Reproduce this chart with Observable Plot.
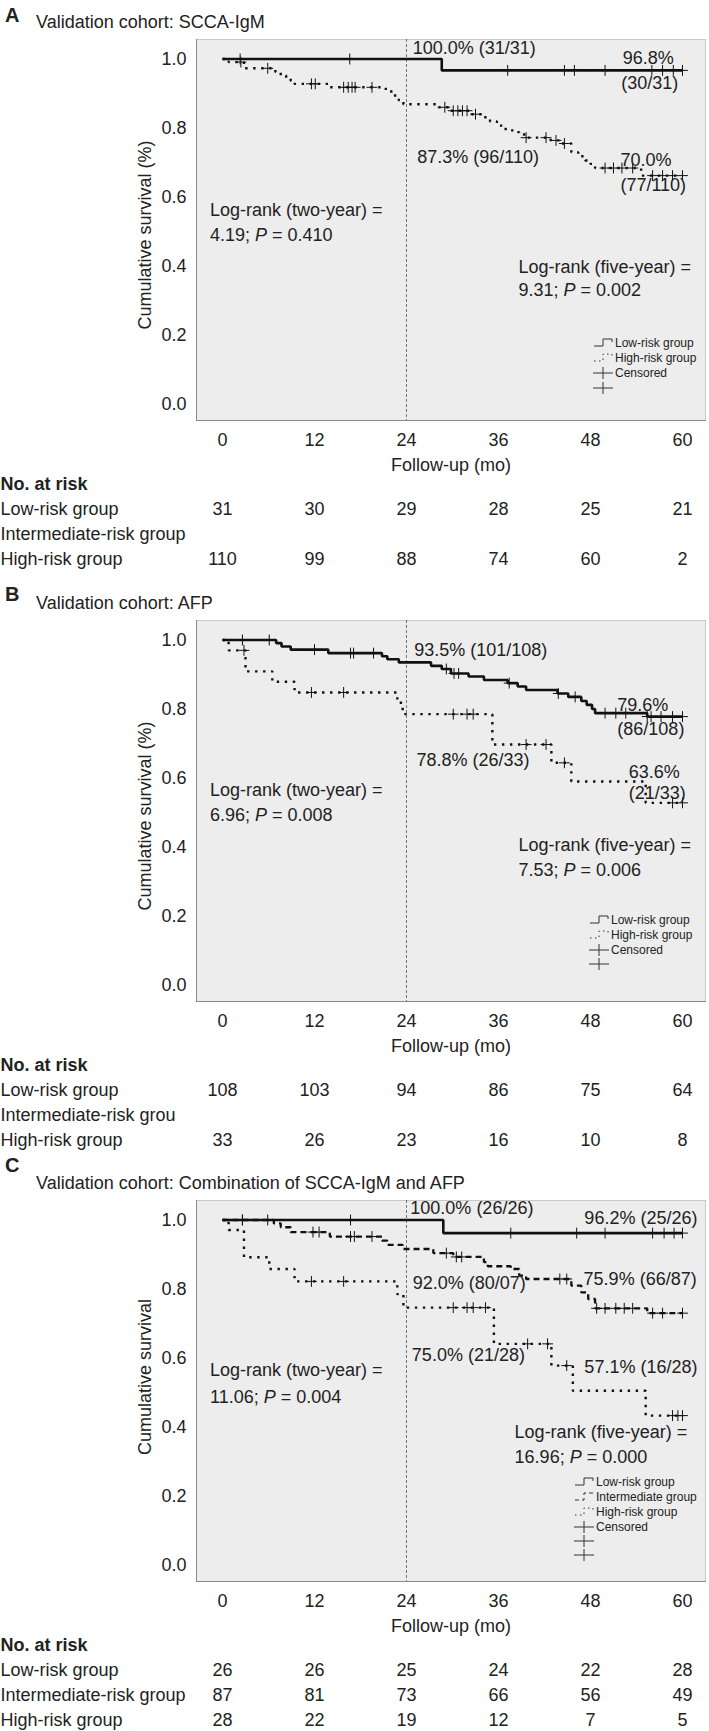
<!DOCTYPE html>
<html><head><meta charset="utf-8">
<script src="https://cdn.jsdelivr.net/npm/d3@7"></script>
<script src="https://cdn.jsdelivr.net/npm/@observablehq/plot@0.6"></script>
<style>
body{margin:0;background:#fff;width:709px;font-family:"Liberation Sans",Arial,Helvetica,sans-serif;color:#222}
.panel{position:relative;width:709px;}
.panel > *{position:absolute;left:0;top:0;}
.letter{font-weight:bold;font-size:20px;line-height:20px;}
.title{font-size:18px;line-height:18px;white-space:nowrap}
</style></head><body><div id="fig"></div>
<script>
// ---------- shared axis values ----------
const months = [0, 12, 24, 36, 48, 60];
const survTicks = [0, 0.2, 0.4, 0.6, 0.8, 1.0];

// ---------- Panel A: SCCA-IgM ----------
const aLow = [[0,1],[28.6,0.967],[60,0.967]];
const aLowCensor = [2.3,16.6,37.2,44.6,45.9,49.9,56.0,57.4,58.8,60];
const aHigh = [[0,1],[0.8,0.991],[2.8,0.973],[6.9,0.962],[7.6,0.952],[8.3,0.945],[8.9,0.937],[9.4,0.928],[14.0,0.918],[21.3,0.906],[22.2,0.894],[23.0,0.880],[23.6,0.869],[28.2,0.860],[29.5,0.850],[32.3,0.840],[34.0,0.831],[34.9,0.819],[35.8,0.807],[36.7,0.797],[37.8,0.788],[38.7,0.781],[39.6,0.772],[42.8,0.764],[44.2,0.755],[45.5,0.730],[46.4,0.718],[47.3,0.706],[48.0,0.696],[48.6,0.684],[54.6,0.662],[60,0.662]];
const aHighCensor = [2.4,5.9,11.6,12.1,15.8,16.4,16.9,17.3,19.5,29.0,30.1,30.7,31.3,31.9,33.0,39.6,42.2,43.5,44.6,49.9,51.0,52.1,53.5,56.1,57.4,58.7,60];
const aRiskLow = [31,30,29,28,25,21];
const aRiskInt = [];
const aRiskHigh = [110,99,88,74,60,2];
const aNotes = [
  {t:24.8,s:1.030,label:"100.0% (31/31)"},{t:52.2,s:1.002,label:"96.8%"},{t:52.0,s:0.931,label:"(30/31)"},
  {t:25.4,s:0.715,label:"87.3% (96/110)"},{t:51.9,s:0.706,label:"70.0%"},{t:51.9,s:0.633,label:"(77/110)"},
  {t:-1.63,s:0.561,label:"Log-rank (two-year) ="},{t:-1.63,s:0.488,label:"4.19; P = 0.410"},
  {t:38.6,s:0.396,label:"Log-rank (five-year) ="},{t:38.6,s:0.329,label:"9.31; P = 0.002"}
];

// ---------- Panel B: AFP ----------
const bLow = [[0,1],[7.0,0.991],[7.7,0.981],[8.9,0.972],[13.8,0.962],[20.8,0.953],[21.5,0.944],[23.0,0.935],[27.2,0.925],[28.6,0.916],[29.8,0.903],[32.1,0.894],[34.1,0.884],[37.2,0.875],[38.5,0.865],[39.6,0.855],[43.7,0.845],[45.1,0.835],[46.8,0.823],[47.5,0.812],[48.2,0.800],[48.6,0.788],[55.4,0.778],[60,0.778]];
const bLowCensor = [2.6,6.1,12.0,16.7,17.1,19.7,29.2,30.2,30.8,37.4,43.8,46.0,49.9,51.3,52.6,55.4,55.9,57.2,58.7,60];
const bHigh = [[0,1],[0.8,0.970],[3.0,0.909],[6.5,0.879],[9.4,0.848],[22.8,0.818],[23.5,0.785],[35.2,0.697],[42.9,0.644],[45.5,0.590],[55.2,0.528],[60,0.528]];
const bHighCensor = [2.8,11.6,15.8,30.1,31.9,32.7,39.6,42.2,44.6,58.7,60];
const bRiskLow = [108,103,94,86,75,64];
const bRiskInt = [];
const bRiskHigh = [33,26,23,16,10,8];
const bNotes = [
  {t:25.0,s:0.970,label:"93.5% (101/108)"},{t:51.5,s:0.810,label:"79.6%"},{t:51.5,s:0.740,label:"(86/108)"},
  {t:25.3,s:0.651,label:"78.8% (26/33)"},{t:53.0,s:0.616,label:"63.6%"},{t:53.0,s:0.555,label:"(21/33)"},
  {t:-1.63,s:0.564,label:"Log-rank (two-year) ="},{t:-1.63,s:0.491,label:"6.96; P = 0.008"},
  {t:38.6,s:0.404,label:"Log-rank (five-year) ="},{t:38.6,s:0.332,label:"7.53; P = 0.006"}
];

// ---------- Panel C: combination ----------
const cLow = [[0,1],[28.8,0.962],[60,0.962]];
const cLowCensor = [2.6,5.9,16.7,37.6,46.2,49.9,56.1,57.6,58.9,60];
const cInt = [[0,1],[6.7,0.990],[7.6,0.979],[8.9,0.965],[14.0,0.952],[20.8,0.940],[21.5,0.928],[23.5,0.916],[27.5,0.904],[30.1,0.893],[34.1,0.878],[34.6,0.866],[37.6,0.858],[38.7,0.839],[39.6,0.829],[45.5,0.810],[46.8,0.790],[47.7,0.771],[48.6,0.744],[55.4,0.730],[60,0.730]];
const cIntCensor = [2.6,11.8,12.6,16.7,17.2,19.5,29.2,30.5,31.2,44.0,44.9,48.8,49.9,51.3,52.4,53.5,56.1,57.4,60];
const cHigh = [[0,1],[0.8,0.971],[2.8,0.892],[6.1,0.858],[9.4,0.822],[22.8,0.785],[23.6,0.746],[35.4,0.641],[42.9,0.578],[45.7,0.505],[55.2,0.433],[60,0.433]];
const cHighCensor = [11.6,15.8,30.1,31.9,32.7,34.3,39.8,42.4,44.9,58.7,59.4,60];
const cRiskLow = [26,26,25,24,22,28];
const cRiskInt = [87,81,73,66,56,49];
const cRiskHigh = [28,22,19,12,7,5];
const cNotes = [
  {t:24.5,s:1.033,label:"100.0% (26/26)"},{t:47.2,s:1.004,label:"96.2% (25/26)"},
  {t:24.8,s:0.816,label:"92.0% (80/07)"},{t:47.1,s:0.828,label:"75.9% (66/87)"},
  {t:24.7,s:0.607,label:"75.0% (21/28)"},{t:47.2,s:0.572,label:"57.1% (16/28)"},
  {t:-1.63,s:0.564,label:"Log-rank (two-year) ="},{t:-1.63,s:0.486,label:"11.06; P = 0.004"},
  {t:38.1,s:0.384,label:"Log-rank (five-year) ="},{t:38.1,s:0.312,label:"16.96; P = 0.000"}
];

// ---------- rendering ----------
const FONT = '"Liberation Sans", Arial, Helvetica, sans-serif';
const INK = "#222";
const xDomain = [-3.39, 63.0];
const yDomain = [-0.0478, 1.0565];
const W = 709, ML = 196, MR = 4;

function survAt(curve, t) {
  let s = curve[0][1];
  for (const [tt, ss] of curve) if (tt <= t) s = ss;
  return s;
}

const STYLES = {
  solid: {strokeWidth: 2.6, dash: null},
  dotted: {strokeWidth: 2.4, dash: "2.4,5.6"},
  dashed: {strokeWidth: 2.3, dash: "6,4"}
};

function chart(p) {
  const marks = [
    Plot.frame({fill: "#ededed", stroke: "#c8c8c8"}),
    Plot.frame({anchor: "left", stroke: "#8a8a8a"}),
    Plot.frame({anchor: "bottom", stroke: "#8a8a8a"}),
    Plot.ruleX([24], {stroke: "#555", strokeWidth: 0.8, strokeDasharray: "3,2"}),
    Plot.axisX({ticks: months, tickSize: 0, tickPadding: 13, tickFormat: d => String(d), label: null, fontSize: 18}),
    Plot.axisY({ticks: survTicks, tickSize: 0, tickPadding: 10, tickFormat: d => d.toFixed(1), label: null, fontSize: 18}),
    Plot.text([p.yLabel], {frameAnchor: "left", textAnchor: "middle", lineAnchor: "middle", rotate: -90, dx: -51, dy: p.yLabelDy, fontSize: 18, fill: INK}),
    Plot.text(["Follow-up (mo)"], {frameAnchor: "bottom", textAnchor: "middle", lineAnchor: "middle", dy: 45, fontSize: 18, fill: INK})
  ];
  for (const c of p.curves) {
    const st = STYLES[c.style];
    marks.push(Plot.line(c.data, {x: d => d[0], y: d => d[1], curve: "step-after", stroke: "#111",
      strokeWidth: st.strokeWidth, strokeDasharray: st.dash || undefined, strokeLinecap: "butt", strokeLinejoin: "miter"}));
    marks.push(Plot.dot(c.censor, {x: t => t, y: t => survAt(c.data, t), symbol: "plus", r: 3.6, stroke: "#111", strokeWidth: 1}));
  }
  marks.push(Plot.text(p.notes, {x: "t", y: "s", text: "label", textAnchor: "start", fontSize: 18, fill: INK}));
  const svg = Plot.plot({
    width: W, height: 470, marginLeft: ML, marginRight: MR, marginTop: 39, marginBottom: 50,
    x: {domain: xDomain}, y: {domain: yDomain},
    style: {fontFamily: FONT, fontSize: "18px", color: INK, background: "transparent", overflow: "visible"},
    marks
  });
  svg.querySelectorAll("text").forEach(t => {
    const s = t.textContent;
    if (t.children.length === 0 && /; P = /.test(s)) {
      const i = s.indexOf("P =");
      t.textContent = "";
      const ns = "http://www.w3.org/2000/svg";
      const a = document.createElementNS(ns, "tspan"); a.textContent = s.slice(0, i);
      const b = document.createElementNS(ns, "tspan"); b.textContent = "P"; b.setAttribute("font-style", "italic");
      const c = document.createElementNS(ns, "tspan"); c.textContent = s.slice(i + 1);
      t.append(a, b, c);
    }
  });
  return svg;
}

function table(p) {
  const rowKeys = ["hdr", "low", "int", "high"];
  const labels = [{k: "low", label: "Low-risk group"}, {k: "int", label: p.intLabel}, {k: "high", label: "High-risk group"}];
  const counts = [];
  p.risk.forEach(([k, arr]) => arr.forEach((n, i) => counts.push({k, t: months[i], n})));
  return Plot.plot({
    width: W, height: 110, marginLeft: ML, marginRight: MR, marginTop: 13, marginBottom: 20,
    x: {domain: xDomain, axis: null},
    y: {type: "point", domain: rowKeys, padding: 0, axis: null},
    style: {fontFamily: FONT, fontSize: "18px", color: INK, background: "transparent", overflow: "visible"},
    marks: [
      Plot.text([{k: "hdr", label: "No. at risk"}], {y: "k", text: "label", frameAnchor: "left", dx: -ML, textAnchor: "start", lineAnchor: "middle", fontWeight: "bold", fontSize: 18, fill: INK}),
      Plot.text(labels, {y: "k", text: "label", frameAnchor: "left", dx: -ML, textAnchor: "start", lineAnchor: "middle", fontSize: 18, fill: INK}),
      Plot.text(counts, {x: "t", y: "k", text: d => String(d.n), fontSize: 18, fill: INK})
    ]
  });
}

function legend(items, textX, rows) {
  const svg = d3.create("svg").attr("width", W).attr("height", 470)
    .style("overflow", "visible").style("pointer-events", "none");
  items.forEach(([type, label], i) => {
    const y = rows[i], x0 = textX - 22;
    const g = svg.append("g").attr("fill", "none").attr("stroke", "#333").attr("stroke-width", 1);
    if (type === "censor") {
      g.append("path").attr("d", `M${x0},${y}H${x0 + 20}M${x0 + 10},${y - 6}V${y + 6}`);
    } else {
      const path = g.append("path").attr("d", `M${x0 + 1},${y + 3}H${x0 + 10}V${y - 4}H${x0 + 19}V${y - 1}`);
      if (type === "dotted") path.attr("stroke-dasharray", "1.5,3.5");
      if (type === "dashed") path.attr("stroke-dasharray", "4,3");
    }
    if (label) svg.append("text").attr("x", textX).attr("y", y).attr("dy", "0.35em")
      .attr("font-family", FONT).attr("font-size", 12).attr("fill", INK).text(label);
  });
  return svg.node();
}

const panels = [
  {letter: "A", title: "Validation cohort: SCCA-IgM", height: 581, letterTop: 5, yLabel: "Cumulative survival (%)", yLabelDy: 5,
   curves: [{data: aLow, censor: aLowCensor, style: "solid"}, {data: aHigh, censor: aHighCensor, style: "dotted"}],
   notes: aNotes, intLabel: "Intermediate-risk group",
   risk: [["low", aRiskLow], ["int", aRiskInt], ["high", aRiskHigh]],
   legend: [[["solid", "Low-risk group"], ["dotted", "High-risk group"], ["censor", "Censored"], ["censor", ""]], 615, [343, 358, 373, 388]]},
  {letter: "B", title: "Validation cohort: AFP", height: 580, letterTop: 3, yLabel: "Cumulative survival (%)", yLabelDy: 5,
   curves: [{data: bLow, censor: bLowCensor, style: "solid"}, {data: bHigh, censor: bHighCensor, style: "dotted"}],
   notes: bNotes, intLabel: "Intermediate-risk grou",
   risk: [["low", bRiskLow], ["int", bRiskInt], ["high", bRiskHigh]],
   legend: [[["solid", "Low-risk group"], ["dotted", "High-risk group"], ["censor", "Censored"], ["censor", ""]], 611, [339, 354, 369, 383]]},
  {letter: "C", title: "Validation cohort: Combination of SCCA-IgM and AFP", height: 570, letterTop: -6, yLabel: "Cumulative survival", yLabelDy: -14,
   curves: [{data: cLow, censor: cLowCensor, style: "solid"}, {data: cInt, censor: cIntCensor, style: "dashed"}, {data: cHigh, censor: cHighCensor, style: "dotted"}],
   notes: cNotes, intLabel: "Intermediate-risk group",
   risk: [["low", cRiskLow], ["int", cRiskInt], ["high", cRiskHigh]],
   legend: [[["solid", "Low-risk group"], ["dashed", "Intermediate group"], ["dotted", "High-risk group"], ["censor", "Censored"], ["censor", ""], ["censor", ""]], 596, [321, 336, 351, 366, 380, 394]]}
];

const fig = document.getElementById("fig");
for (const p of panels) {
  const div = document.createElement("div");
  div.className = "panel";
  div.style.height = p.height + "px";
  const c = chart(p);
  div.appendChild(c);
  const t = table(p);
  t.style.top = "470px";
  div.appendChild(t);
  div.appendChild(legend(...p.legend));
  const L = document.createElement("div");
  L.className = "letter"; L.textContent = p.letter;
  L.style.left = "5px"; L.style.top = p.letterTop + "px";
  div.appendChild(L);
  const T = document.createElement("div");
  T.className = "title"; T.textContent = p.title;
  T.style.left = "36px"; T.style.top = "13px";
  div.appendChild(T);
  fig.appendChild(div);
}
</script></body></html>
